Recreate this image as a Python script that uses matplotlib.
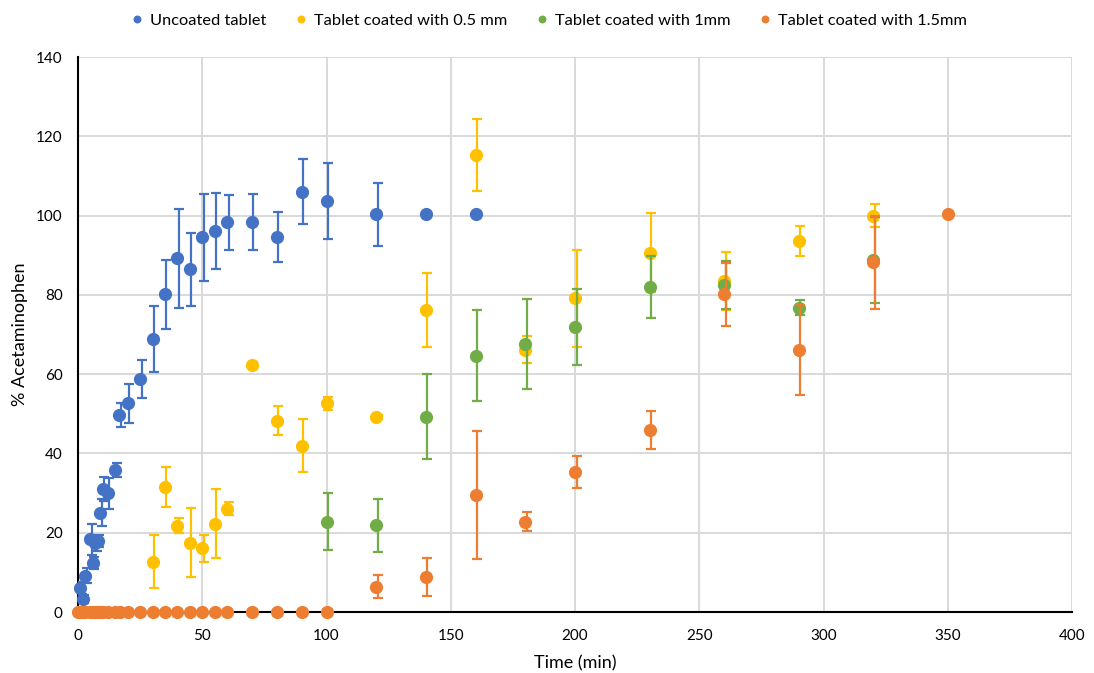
import matplotlib
matplotlib.use("Agg")
import matplotlib.pyplot as plt
import matplotlib.transforms as mtransforms
import numpy as np

plt.rcParams["font.family"] = ["Lato", "DejaVu Sans"]

# Uncoated tablet
t_uncoated = [1, 2, 3, 5, 6, 7, 8, 9, 10, 12, 15, 16.5, 20, 25, 30, 35, 40, 45,
              50, 55, 60, 70, 80, 90, 100, 120, 140, 160]
y_uncoated = [6.0, 3.2, 9.2, 18.3, 12.3, 17.3, 18.0, 25.1, 31.0, 29.9, 35.8, 49.7,
              52.6, 58.8, 68.8, 80.1, 89.2, 86.4, 94.5, 96.1, 98.3, 98.4, 94.5,
              106.0, 103.7, 100.3, 100.3, 100.3]
e_uncoated = [1.5, 1.0, 2.0, 4.0, 1.5, 2.0, 1.5, 3.5, 3.0, 4.0, 1.8, 3.0, 5.0, 4.7,
              8.3, 8.6, 12.4, 9.3, 11.0, 9.5, 7.0, 7.0, 6.3, 8.2, 9.6, 8.0, 0, 0]

# Tablet coated with 0.5 mm
t_05 = [30, 35, 40, 45, 50, 55, 60, 70, 80, 90, 100, 120, 140, 160, 180, 200,
        230, 260, 290, 320]
y_05 = [12.7, 31.5, 21.8, 17.5, 16.1, 22.3, 26.1, 62.2, 48.3, 42.0, 52.6, 49.3,
        76.2, 115.2, 66.1, 79.1, 90.6, 83.5, 93.6, 99.9]
e_05 = [6.7, 5.1, 1.9, 8.7, 3.4, 8.7, 1.6, 0.8, 3.7, 6.6, 1.6, 0.5, 9.4, 9.1,
        3.4, 12.2, 10.0, 7.4, 3.8, 2.9]

# Tablet coated with 1 mm
t_1 = [100, 120, 140, 160, 180, 200, 230, 260, 290, 320]
y_1 = [22.8, 21.9, 49.3, 64.7, 67.6, 71.8, 81.9, 82.5, 76.8, 88.8]
e_1 = [7.2, 6.7, 10.8, 11.5, 11.3, 9.6, 7.8, 6.0, 2.0, 10.9]

# Tablet coated with 1.5 mm
t_15 = [0, 1, 2, 3, 5, 6, 7, 8, 9, 10, 12, 15, 17, 20, 25, 30, 35, 40, 45, 50,
        55, 60, 70, 80, 90, 100, 120, 140, 160, 180, 200, 230, 260, 290, 320, 350]
y_15 = [0] * 26 + [6.4, 8.9, 29.5, 22.8, 35.4, 45.9, 80.1, 66.1, 88.2, 100.3]
e_15 = [0] * 26 + [2.9, 4.8, 16.2, 2.4, 4.0, 4.8, 7.9, 11.3, 11.8, 0]

series = [
    ("Uncoated tablet", t_uncoated, y_uncoated, e_uncoated, "#4472C4"),
    ("Tablet coated with 0.5 mm", t_05, y_05, e_05, "#FFC000"),
    ("Tablet coated with 1mm", t_1, y_1, e_1, "#70AD47"),
    ("Tablet coated with 1.5mm", t_15, y_15, e_15, "#ED7D31"),
]

fig = plt.figure(figsize=(10.94, 6.73), dpi=100)
ax = fig.add_axes([0.0713, 0.0906, 0.9087, 0.8247])

# Excel nudges error bars a little to the right of the markers
bar_tr = mtransforms.offset_copy(ax.transData, fig=fig, x=1.5, y=0, units="dots")

for i, (label, t, y, e, c) in enumerate(series):
    t = np.array(t, dtype=float)
    y = np.array(y, dtype=float)
    e = np.array(e, dtype=float)
    m = e > 0
    ax.errorbar(t[m], y[m], yerr=e[m], fmt="none", ecolor=c, elinewidth=1.6,
                capsize=3.5, capthick=1.6, transform=bar_tr, zorder=3 + i)
    ax.plot(t, y, "o", color=c, markersize=9.5, markeredgewidth=0, label=label,
            zorder=3 + i, clip_on=False)

ax.set_xlim(0, 400)
ax.set_ylim(0, 140)
ax.set_xticks(np.arange(0, 401, 50))
ax.set_yticks(np.arange(0, 141, 20))
ax.grid(True, color="#d9d9d9", linewidth=1.4)
ax.set_axisbelow(True)
ax.tick_params(length=0, labelsize=11, labelcolor="black")
ax.tick_params(axis="x", pad=12)
ax.tick_params(axis="y", pad=11)
for s in ["top", "right"]:
    ax.spines[s].set_visible(False)
for s in ["left", "bottom"]:
    ax.spines[s].set_color("black")
    ax.spines[s].set_linewidth(1.5)

ax.set_xlabel("Time (min)", fontsize=13, labelpad=9)
ax.set_ylabel("% Acetaminophen", fontsize=13, labelpad=6)

fig.legend(loc="upper center", bbox_to_anchor=(0.50, 1.002), ncol=4,
           frameon=False, fontsize=11.8, markerscale=0.6, handletextpad=0.2,
           columnspacing=1.5, handlelength=1.2)

fig.savefig("out.png", dpi=100)
